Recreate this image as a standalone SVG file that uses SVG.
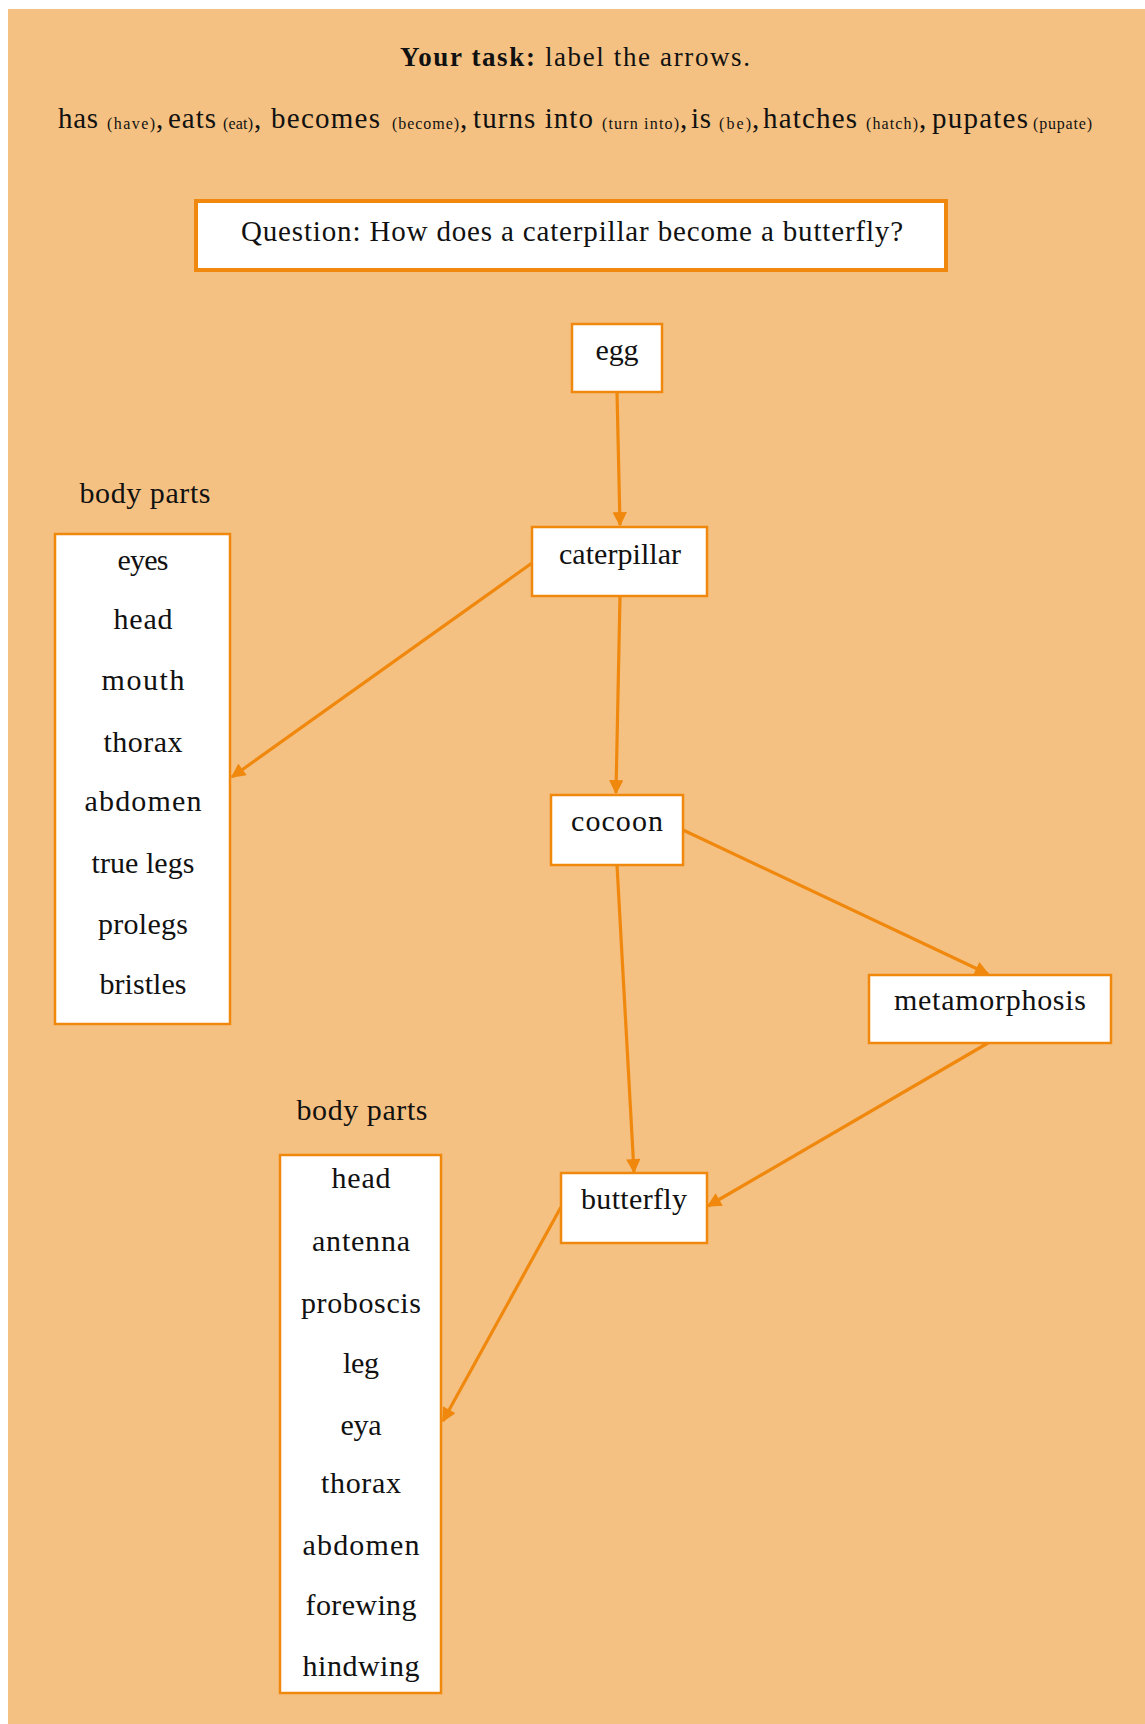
<svg xmlns="http://www.w3.org/2000/svg" width="1145" height="1724" viewBox="0 0 1145 1724">
<defs>
<style>
text{font-family:"Liberation Serif","Times New Roman",serif;fill:#111;}
.n{font-size:30px;text-anchor:middle;}
.box{fill:#fff;stroke:#F0880E;stroke-width:2.5;}
.edge{stroke:#F0880E;stroke-width:3.2;fill:none;marker-end:url(#ah);}
.w{font-size:29px;}
.sm{font-size:16px;}
</style>
<marker id="ah" viewBox="0 0 10 10" refX="9" refY="5" markerWidth="5" markerHeight="4.5" orient="auto" markerUnits="strokeWidth">
<path d="M0,0 L10,5 L0,10 z" fill="#F0880E"/>
</marker>
</defs>
<rect x="0" y="0" width="1145" height="1724" fill="#fff"/>
<rect x="8" y="9" width="1137" height="1715" fill="#F5C182"/>

<g id="header">
<text x="575" y="66" font-size="27" text-anchor="middle" textLength="350"><tspan font-weight="bold">Your task:</tspan> label the arrows.</text>
<text x="58" y="128" class="w" textLength="40">has</text><text x="107" y="129" class="sm" textLength="48">(have)</text><text x="156" y="128" class="w">,</text>
<text x="168" y="128" class="w" textLength="48">eats</text><text x="223" y="129" class="sm" textLength="30">(eat)</text><text x="254" y="128" class="w">,</text>
<text x="271" y="128" class="w" textLength="109">becomes</text><text x="392" y="129" class="sm" textLength="67">(become)</text><text x="460" y="128" class="w">,</text>
<text x="473" y="128" class="w" textLength="120">turns into</text><text x="602" y="129" class="sm" textLength="77">(turn into)</text><text x="680" y="128" class="w">,</text>
<text x="691" y="128" class="w" textLength="20">is</text><text x="719" y="129" class="sm" textLength="32">(be)</text><text x="752" y="128" class="w">,</text>
<text x="763" y="128" class="w" textLength="94">hatches</text><text x="866" y="129" class="sm" textLength="52">(hatch)</text><text x="919" y="128" class="w">,</text>
<text x="932" y="128" class="w" textLength="96">pupates</text><text x="1033" y="129" class="sm" textLength="59">(pupate)</text>
</g>

<g id="question">
<rect x="196" y="201" width="750" height="69" fill="#fff" stroke="#F0880E" stroke-width="4"/>
<text x="572" y="241" font-size="29" text-anchor="middle" textLength="662">Question: How does a caterpillar become a butterfly?</text>
</g>

<g id="connectors">
<line class="edge" x1="617" y1="392" x2="620" y2="525"/>
<line class="edge" x1="532" y1="563" x2="232" y2="777"/>
<line class="edge" x1="620" y1="596" x2="616" y2="793"/>
<line class="edge" x1="683" y1="830" x2="988" y2="974"/>
<line class="edge" x1="617" y1="865" x2="634" y2="1172"/>
<line class="edge" x1="988" y1="1043" x2="708" y2="1206"/>
<line class="edge" x1="561" y1="1207" x2="443" y2="1421"/>
</g>

<g id="egg">
<rect class="box" x="572" y="324" width="90" height="68"/>
<text class="n" x="617" y="360" textLength="43">egg</text>
</g>
<g id="caterpillar">
<rect class="box" x="532" y="527" width="175" height="69"/>
<text class="n" x="620" y="564" textLength="122">caterpillar</text>
</g>
<g id="cocoon">
<rect class="box" x="551" y="795" width="132" height="70"/>
<text class="n" x="617" y="831" textLength="92">cocoon</text>
</g>
<g id="metamorphosis">
<rect class="box" x="869" y="975" width="242" height="68"/>
<text class="n" x="990" y="1010" textLength="192">metamorphosis</text>
</g>
<g id="butterfly">
<rect class="box" x="561" y="1173" width="146" height="70"/>
<text class="n" x="634" y="1209" textLength="106">butterfly</text>
</g>

<g id="caterpillar-body-parts">
<text class="n" x="145" y="503" textLength="131">body parts</text>
<rect class="box" x="55" y="534" width="175" height="490"/>
<text class="n" x="143" y="570" textLength="51">eyes</text>
<text class="n" x="143" y="629" textLength="59">head</text>
<text class="n" x="143" y="690" textLength="83">mouth</text>
<text class="n" x="143" y="752" textLength="79">thorax</text>
<text class="n" x="143" y="811" textLength="117">abdomen</text>
<text class="n" x="143" y="873" textLength="103">true legs</text>
<text class="n" x="143" y="934" textLength="90">prolegs</text>
<text class="n" x="143" y="994" textLength="87">bristles</text>
</g>

<g id="butterfly-body-parts">
<text class="n" x="362" y="1120" textLength="131">body parts</text>
<rect class="box" x="280" y="1155" width="161" height="538"/>
<text class="n" x="361" y="1188" textLength="59">head</text>
<text class="n" x="361" y="1251" textLength="98">antenna</text>
<text class="n" x="361" y="1313" textLength="120">proboscis</text>
<text class="n" x="361" y="1373" textLength="36">leg</text>
<text class="n" x="361" y="1435" textLength="41">eya</text>
<text class="n" x="361" y="1493" textLength="80">thorax</text>
<text class="n" x="361" y="1555" textLength="117">abdomen</text>
<text class="n" x="361" y="1615" textLength="111">forewing</text>
<text class="n" x="361" y="1676" textLength="117">hindwing</text>
</g>
</svg>
